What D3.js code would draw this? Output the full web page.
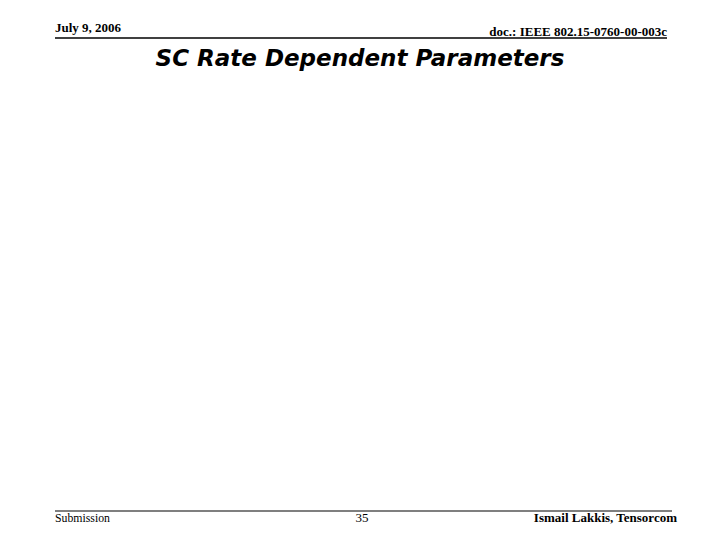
<!DOCTYPE html>
<html><head><meta charset="utf-8">
<script src="https://cdn.jsdelivr.net/npm/d3@7"></script>
<style>body{margin:0;background:#fff}</style>
</head><body>
<script>
const headerLeft = "July 9, 2006";
const headerRight = "doc.: IEEE 802.15-0760-00-003c";
const title = "SC Rate Dependent Parameters";
const footerLeft = "Submission";
const pageNumber = "35";
const footerRight = "Ismail Lakkis, Tensorcom";

const svg = d3.select("body").append("svg").attr("width",720).attr("height",540);
const serif = "'Liberation Serif','Times New Roman',serif";

svg.append("text").attr("x",55).attr("y",32).attr("font-family",serif).attr("font-weight","bold")
  .attr("font-size",13).text(headerLeft);
svg.append("text").attr("x",667).attr("y",36).attr("text-anchor","end").attr("font-family",serif)
  .attr("font-weight","bold").attr("font-size",13).text(headerRight);
svg.append("line").attr("x1",55).attr("x2",667).attr("y1",38).attr("y2",38).attr("stroke","#000").attr("stroke-width",1.5);

svg.append("text").attr("x",360).attr("y",66).attr("text-anchor","middle")
  .attr("font-family","'DejaVu Sans',sans-serif").attr("font-weight","bold").attr("font-style","italic")
  .attr("font-size",23).text(title);

svg.append("line").attr("x1",55).attr("x2",672).attr("y1",511).attr("y2",511).attr("stroke","#000").attr("stroke-width",1.2);
svg.append("text").attr("x",55).attr("y",522).attr("font-family",serif).attr("font-size",13)
  .attr("textLength",55).attr("lengthAdjust","spacingAndGlyphs").text(footerLeft);
svg.append("text").attr("x",362).attr("y",522).attr("text-anchor","middle").attr("font-family",serif)
  .attr("font-size",13).text(pageNumber);
svg.append("text").attr("x",677).attr("y",522).attr("text-anchor","end").attr("font-family",serif)
  .attr("font-weight","bold").attr("font-size",13).text(footerRight);
</script>
</body></html>
